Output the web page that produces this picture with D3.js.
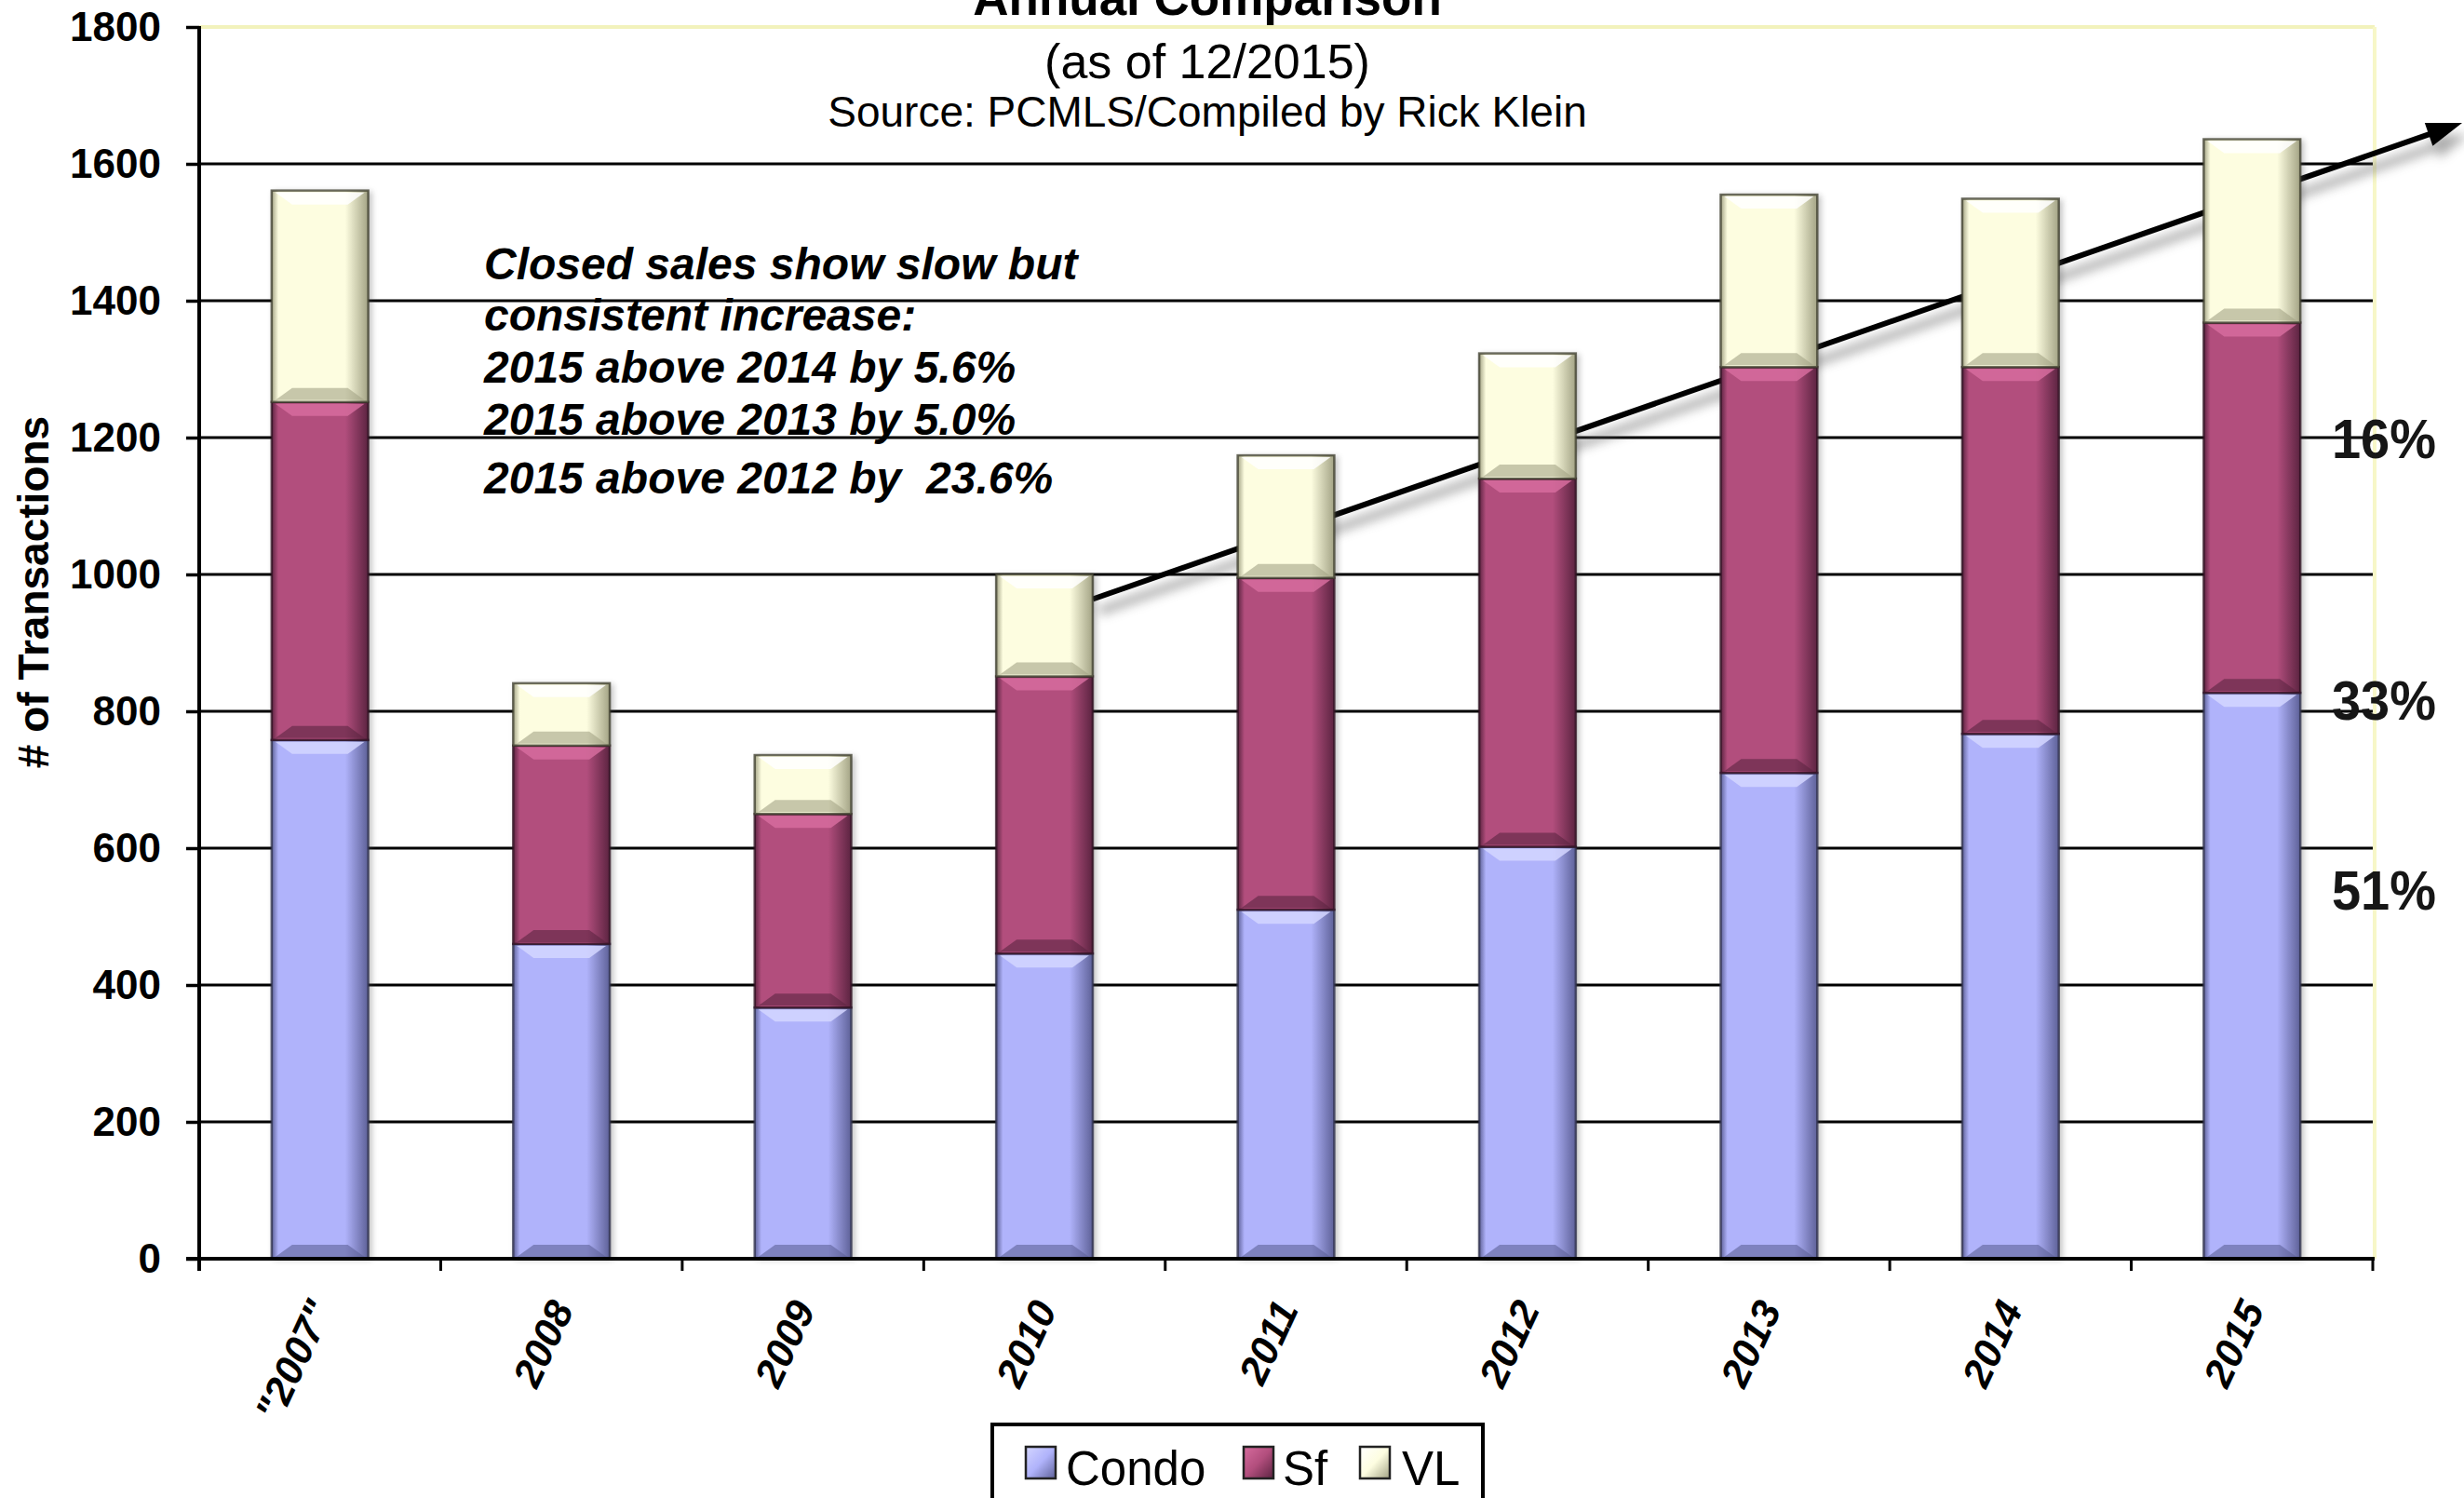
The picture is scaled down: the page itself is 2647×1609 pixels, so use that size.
<!DOCTYPE html>
<html>
<head>
<meta charset="utf-8">
<script src="https://cdnjs.cloudflare.com/ajax/libs/d3/7.8.5/d3.min.js"></script>
<style>
  html, body { margin: 0; padding: 0; background: #ffffff; }
  svg { display: block; }
  text { font-family: "Liberation Sans", Arial, Helvetica, sans-serif; }
</style>
</head>
<body>
<script>
// ---------------- data ----------------
const categories = ['"2007"', "2008", "2009", "2010", "2011", "2012", "2013", "2014", "2015"];
const seriesNames = ["Condo", "Sf", "VL"];
const condo = [758, 460, 367, 446, 510, 602, 710, 767, 827];
const sf    = [494, 290, 283, 405, 485, 538, 593, 536, 541];
const vl    = [309,  91,  86, 149, 179, 183, 252, 246, 268];
const yTicks = [0, 200, 400, 600, 800, 1000, 1200, 1400, 1600, 1800];
const titleLines = ["Annual Comparison", "(as of 12/2015)", "Source: PCMLS/Compiled by Rick Klein"];
const noteLines = [
  "Closed sales show slow but",
  "consistent increase:",
  "2015 above 2014 by 5.6%",
  "2015 above 2013 by 5.0%",
  "2015 above 2012 by  23.6%"
];
const yTitle = "# of Transactions";

// ---------------- layout ----------------
const W = 2647, H = 1609;
const plot = { left: 214, right: 2549, top: 29, bottom: 1352 };

const svg = d3.select("body").append("svg").attr("width", W).attr("height", H);
const defs = svg.append("defs");

const colors = {
  Condo: { main: "#b0b3fb", dark: "#5e6198", light: "#d4d6ff", edge: "#2e2f4a" },
  Sf:    { main: "#b24e7d", dark: "#5c2441", light: "#d66c9e", edge: "#2e1020" },
  VL:    { main: "#fdfde0", dark: "#a3a385", light: "#ffffff", edge: "#3c3c2c" }
};

seriesNames.forEach(s => {
  const c = colors[s];
  const g = defs.append("linearGradient").attr("id", "g-" + s)
    .attr("x1", "0%").attr("x2", "100%").attr("y1", "0%").attr("y2", "0%");
  g.append("stop").attr("offset", "0%").attr("stop-color", c.dark);
  g.append("stop").attr("offset", "7%").attr("stop-color", c.main);
  g.append("stop").attr("offset", "76%").attr("stop-color", c.main);
  g.append("stop").attr("offset", "100%").attr("stop-color", c.dark);
  const lg = defs.append("linearGradient").attr("id", "lg-" + s)
    .attr("x1", "0%").attr("x2", "100%").attr("y1", "0%").attr("y2", "100%");
  lg.append("stop").attr("offset", "0%").attr("stop-color", c.light);
  lg.append("stop").attr("offset", "50%").attr("stop-color", c.main);
  lg.append("stop").attr("offset", "100%").attr("stop-color", c.dark);
});

const shadow = defs.append("filter").attr("id", "arrowShadow")
  .attr("x", "-10%").attr("y", "-50%").attr("width", "120%").attr("height", "200%");
shadow.append("feGaussianBlur").attr("stdDeviation", 6);

const barShadow = defs.append("filter").attr("id", "barShadow")
  .attr("x", "-20%").attr("y", "-20%").attr("width", "140%").attr("height", "140%");
barShadow.append("feGaussianBlur").attr("stdDeviation", 3);

// ---------------- scales ----------------
const x = d3.scaleBand().domain(categories)
  .range([plot.left, plot.right]).paddingInner(0.6).paddingOuter(0.3);
const y = d3.scaleLinear().domain([0, 1800]).range([plot.bottom, plot.top]);
const step = x.step();

// ---------------- titles ----------------
const cx = 1297;
svg.append("text").attr("x", cx).attr("y", 16).attr("text-anchor", "middle")
  .attr("font-size", 53).attr("font-weight", "bold").text(titleLines[0]);
svg.append("text").attr("x", cx).attr("y", 84).attr("text-anchor", "middle")
  .attr("font-size", 52).text(titleLines[1]);
svg.append("text").attr("x", cx).attr("y", 136).attr("text-anchor", "middle")
  .attr("font-size", 46).text(titleLines[2]);

// ---------------- gridlines ----------------
svg.append("g").selectAll("line").data(yTicks.filter(t => t > 0 && t < 1800)).join("line")
  .attr("x1", plot.left).attr("x2", plot.right)
  .attr("y1", d => y(d)).attr("y2", d => y(d))
  .attr("stroke", "#000").attr("stroke-width", 3);

// plot-area border (pale yellow) top and right
svg.append("line").attr("x1", plot.left).attr("x2", plot.right + 2)
  .attr("y1", plot.top).attr("y2", plot.top)
  .attr("stroke", "#f2f2bc").attr("stroke-width", 4);
svg.append("line").attr("x1", plot.right + 2).attr("x2", plot.right + 2)
  .attr("y1", plot.top).attr("y2", plot.bottom)
  .attr("stroke", "#f7f7c8").attr("stroke-width", 4);

// ---------------- trend arrow (behind the bars) ----------------
const arrowStart = { x: x("2010") + x.bandwidth(), y: y(964) };
const arrowEnd = { x: W - 2, y: y(1660) };
const ang = Math.atan2(arrowEnd.y - arrowStart.y, arrowEnd.x - arrowStart.x);
const headLen = 38, headHalf = 13;
const lineEnd = { x: arrowEnd.x - headLen * 0.8 * Math.cos(ang), y: arrowEnd.y - headLen * 0.8 * Math.sin(ang) };
function headPts(e) {
  const bx = e.x - headLen * Math.cos(ang), by = e.y - headLen * Math.sin(ang);
  const px = -Math.sin(ang) * headHalf, py = Math.cos(ang) * headHalf;
  return [[e.x, e.y], [bx + px, by + py], [bx - px, by - py]];
}
const arrowG = svg.append("g");
const sh = arrowG.append("g").attr("filter", "url(#arrowShadow)").attr("opacity", 0.55)
  .attr("transform", "translate(7,13)");
sh.append("line").attr("x1", arrowStart.x).attr("y1", arrowStart.y)
  .attr("x2", lineEnd.x).attr("y2", lineEnd.y).attr("stroke", "#666").attr("stroke-width", 9);
sh.append("polygon").attr("points", headPts(arrowEnd).map(p => p.join(",")).join(" ")).attr("fill", "#666");
arrowG.append("line").attr("x1", arrowStart.x).attr("y1", arrowStart.y)
  .attr("x2", lineEnd.x).attr("y2", lineEnd.y).attr("stroke", "#000").attr("stroke-width", 6);
arrowG.append("polygon").attr("points", headPts(arrowEnd).map(p => p.join(",")).join(" ")).attr("fill", "#000");

// ---------------- stacked bars ----------------
const rows = categories.map((c, i) => ({ cat: c, Condo: condo[i], Sf: sf[i], VL: vl[i] }));
const stacked = d3.stack().keys(seriesNames)(rows);

const barsG = svg.append("g");
// soft halo
barsG.append("g").attr("filter", "url(#barShadow)").attr("opacity", 0.35)
  .selectAll("rect").data(rows).join("rect")
  .attr("x", d => x(d.cat) + 2).attr("width", x.bandwidth() + 2)
  .attr("y", d => y(d.Condo + d.Sf + d.VL) + 1)
  .attr("height", d => y(0) - y(d.Condo + d.Sf + d.VL))
  .attr("fill", "#555");

stacked.forEach(layer => {
  const s = layer.key, c = colors[s];
  const g = barsG.append("g");
  layer.forEach((d, i) => {
    const x0 = x(categories[i]), bw = x.bandwidth();
    const yTop = y(d[1]), yBot = y(d[0]), h = yBot - yTop;
    const bev = Math.min(13, h / 4);
    const seg = g.append("g");
    seg.append("rect").attr("x", x0).attr("y", yTop).attr("width", bw).attr("height", h)
      .attr("fill", `url(#g-${s})`);
    // top bevel (light)
    seg.append("polygon").attr("points", [
      [x0 + 4, yTop + 2], [x0 + bw - 4, yTop + 2],
      [x0 + bw - 22, yTop + bev + 2], [x0 + 22, yTop + bev + 2]
    ].map(p => p.join(",")).join(" "))
      .attr("fill", c.light).attr("opacity", 0.85);
    // bottom bevel (dark)
    seg.append("polygon").attr("points", [
      [x0 + 4, yBot - 2], [x0 + bw - 4, yBot - 2],
      [x0 + bw - 22, yBot - bev - 2], [x0 + 22, yBot - bev - 2]
    ].map(p => p.join(",")).join(" "))
      .attr("fill", c.dark).attr("opacity", 0.6);
    seg.append("rect").attr("x", x0).attr("y", yTop).attr("width", bw).attr("height", h)
      .attr("fill", "none").attr("stroke", c.edge).attr("stroke-opacity", 0.75).attr("stroke-width", 2.5);
  });
});

// ---------------- axes ----------------
const yAxis = d3.axisLeft(y).tickValues(yTicks).tickSize(14).tickPadding(27).tickFormat(d3.format("d"));
const yg = svg.append("g").attr("transform", `translate(${plot.left},0)`).call(yAxis);
yg.select(".domain").remove();
yg.selectAll(".tick line").attr("stroke", "#000").attr("stroke-width", 3.5);
yg.selectAll(".tick text").attr("font-size", 44).attr("font-weight", "bold").attr("fill", "#000")
  .attr("font-family", '"Liberation Sans", Arial, sans-serif');
svg.append("line").attr("x1", plot.left).attr("x2", plot.left)
  .attr("y1", plot.top - 1).attr("y2", plot.bottom + 13).attr("stroke", "#000").attr("stroke-width", 4);

// x axis
svg.append("line").attr("x1", plot.left - 14).attr("x2", plot.right + 2)
  .attr("y1", plot.bottom).attr("y2", plot.bottom).attr("stroke", "#000").attr("stroke-width", 4);
const bounds = d3.range(categories.length + 1).map(i => plot.left + i * step);
svg.append("g").selectAll("line").data(bounds).join("line")
  .attr("x1", d => d).attr("x2", d => d)
  .attr("y1", plot.bottom).attr("y2", plot.bottom + 13)
  .attr("stroke", "#000").attr("stroke-width", 3);
svg.append("g").selectAll("text").data(categories).join("text")
  .attr("transform", d => `translate(${x(d) + x.bandwidth() / 2 + 14},${plot.bottom + 54}) rotate(-65)`)
  .attr("text-anchor", "end")
  .attr("font-size", 43).attr("font-weight", "bold").attr("font-style", "italic")
  .text(d => d);

// y title
svg.append("text").attr("transform", `translate(52,636) rotate(-90)`)
  .attr("text-anchor", "middle").attr("font-size", 46).attr("font-weight", "bold").text(yTitle);

// ---------------- annotation ----------------
const noteY = [300, 355, 411, 467, 530];
svg.append("g").selectAll("text").data(noteLines).join("text")
  .attr("x", 520).attr("y", (d, i) => noteY[i])
  .attr("font-size", 48).attr("font-weight", "bold").attr("font-style", "italic")
  .attr("xml:space", "preserve").style("white-space", "pre")
  .text(d => d);

// ---------------- 2015 share labels ----------------
const last = categories.length - 1;
const total = condo[last] + sf[last] + vl[last];
const shares = [
  { label: Math.round(vl[last] / total * 100) + "%", v: 1170 },
  { label: Math.round(sf[last] / total * 100) + "%", v: 788 },
  { label: Math.round(condo[last] / total * 100) + "%", v: 510 }
];
svg.append("g").selectAll("text").data(shares).join("text")
  .attr("x", 2505).attr("y", d => y(d.v))
  .attr("font-size", 60).attr("font-weight", "bold").attr("fill", "#161616")
  .attr("textLength", 112).attr("lengthAdjust", "spacingAndGlyphs")
  .text(d => d.label);

// ---------------- legend ----------------
const lg = svg.append("g");
lg.append("rect").attr("x", 1066).attr("y", 1530).attr("width", 527).attr("height", 120)
  .attr("fill", "#fff").attr("stroke", "#000").attr("stroke-width", 4);
const legendItems = [
  { key: "Condo", sx: 1102, tx: 1145 },
  { key: "Sf", sx: 1336, tx: 1378 },
  { key: "VL", sx: 1461, tx: 1506 }
];
legendItems.forEach(it => {
  lg.append("rect").attr("x", it.sx).attr("y", 1554).attr("width", 32).attr("height", 34)
    .attr("fill", `url(#lg-${it.key})`).attr("stroke", "#222").attr("stroke-width", 2.5);
  lg.append("text").attr("x", it.tx).attr("y", 1595).attr("font-size", 51).text(it.key);
});
</script>
</body>
</html>
